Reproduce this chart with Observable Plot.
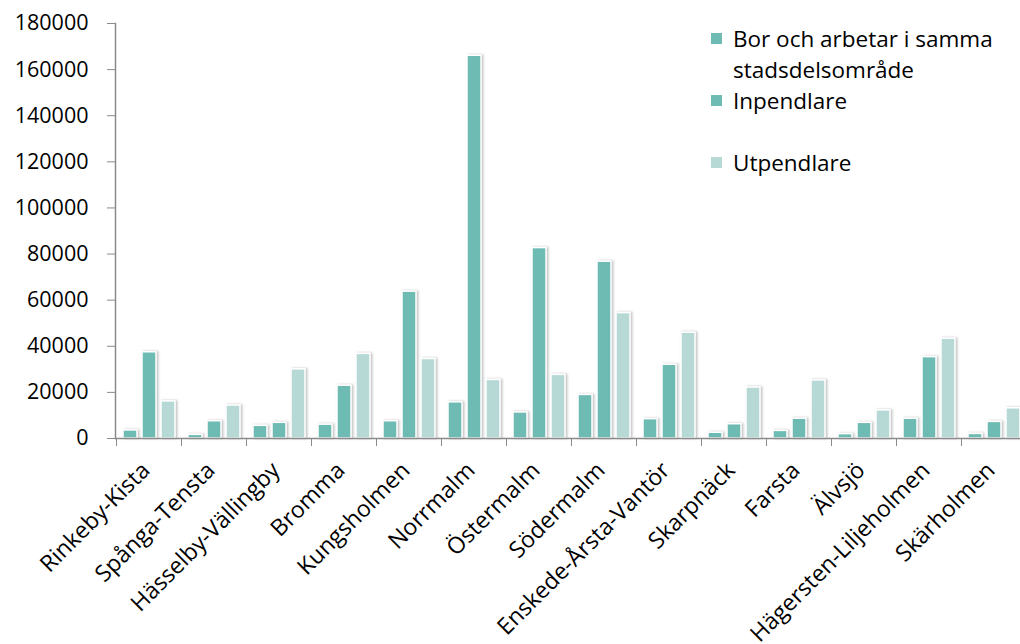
<!DOCTYPE html>
<html>
<head>
<meta charset="utf-8">
<script src="https://cdn.jsdelivr.net/npm/d3@7"></script>
<script src="https://cdn.jsdelivr.net/npm/@observablehq/plot@0.6"></script>
<style>
  html, body { margin: 0; padding: 0; background: #fff; }
  #wrap { position: relative; width: 1020px; height: 644px; overflow: hidden; font-family: "Open Sans", sans-serif; }
  #legend { position: absolute; left: 711px; top: 23px; font-size: 22.5px; color: #000; line-height: 31px; }
  .item { position: relative; padding-left: 22px; }
  .sw { position: absolute; left: 0; top: 10px; width: 11px; height: 11px; }
</style>
</head>
<body>
<div id="wrap">
  <div id="chart"></div>
  <div id="legend"></div>
</div>
<script>
const categories = ["Rinkeby-Kista", "Spånga-Tensta", "Hässelby-Vällingby", "Bromma", "Kungsholmen", "Norrmalm", "Östermalm", "Södermalm", "Enskede-Årsta-Vantör", "Skarpnäck", "Farsta", "Älvsjö", "Hägersten-Liljeholmen", "Skärholmen"];
const borOchArbetar = [3500, 1600, 5500, 6000, 7500, 15700, 11300, 18900, 8400, 2500, 3300, 1900, 8600, 2000];
const inpendlare   = [37400, 7500, 6800, 22900, 63700, 166000, 82600, 76700, 32000, 6200, 8600, 6800, 35300, 7200];
const utpendlare   = [16100, 14300, 30000, 36700, 34500, 25400, 27600, 54400, 45900, 22100, 25200, 12200, 43300, 13100];
const seriesNames = ["Bor och arbetar i samma stadsdelsområde", "Inpendlare", "Utpendlare"];
const seriesColors = ["#6dbbb3", "#6dbbb3", "#b7d9d6"];
const yTicks = [0, 20000, 40000, 60000, 80000, 100000, 120000, 140000, 160000, 180000];

const rows = categories.map((c, i) => ({cat: c, bor: borOchArbetar[i], inp: inpendlare[i], utp: utpendlare[i]}));

const barOpts = {stroke: "#ffffff", strokeWidth: 1.5};
const chart = Plot.plot({
  width: 1020,
  height: 644,
  marginLeft: 115,
  marginRight: 0,
  marginTop: 23,
  marginBottom: 206,
  style: {fontFamily: "'Open Sans', sans-serif", fontSize: "20px", color: "#000", background: "#fff", overflow: "visible"},
  x: {domain: categories, range: [115, 1026], padding: 0},
  y: {domain: [0, 180000]},
  marks: [
    Plot.barY(rows, {x: "cat", y: "bor", fill: seriesColors[0], insetLeft: 7, insetRight: 44, ...barOpts}),
    Plot.barY(rows, {x: "cat", y: "inp", fill: seriesColors[1], insetLeft: 26, insetRight: 25, ...barOpts}),
    Plot.barY(rows, {x: "cat", y: "utp", fill: seriesColors[2], insetLeft: 45, insetRight: 6, ...barOpts}),
    Plot.frame({anchor: "left", stroke: "#8a8a8a", strokeWidth: 1.5}),
    Plot.ruleY([0], {stroke: "#8a8a8a", strokeWidth: 1.5}),
    Plot.axisY({ticks: yTicks, tickSize: 8, tickPadding: 19, tickFormat: d => String(d), stroke: "#8a8a8a", label: null, fontSize: 21.5, fill: "#000"}),
    Plot.axisX({tickSize: 8, tickFormat: () => "", dx: -32.5, stroke: "#8a8a8a", label: null}),
    Plot.axisX({tickSize: 0, tickRotate: -45, tickPadding: 28, dx: -3, label: null, fontSize: 23, fill: "#000"})
  ]
});

// subtle drop shadow on bars
const ns = "http://www.w3.org/2000/svg";
const defs = document.createElementNS(ns, "defs");
defs.innerHTML = '<filter id="shadow" x="-30%" y="-5%" width="160%" height="110%"><feDropShadow dx="1.5" dy="0" stdDeviation="1.2" flood-color="#888" flood-opacity="0.55"/></filter>';
chart.insertBefore(defs, chart.firstChild);
chart.querySelectorAll('g[aria-label="bar"]').forEach(g => g.setAttribute("filter", "url(#shadow)"));

document.getElementById("chart").appendChild(chart);

const legend = document.getElementById("legend");
const legendLines = [["Bor och arbetar i samma", "stadsdelsområde"], ["Inpendlare"], [""], ["Utpendlare"]];
const legendColor = [seriesColors[0], seriesColors[1], null, seriesColors[2]];
legendLines.forEach((lines, i) => {
  const div = document.createElement("div");
  div.className = "item";
  if (legendColor[i]) {
    const sw = document.createElement("span");
    sw.className = "sw";
    sw.style.background = legendColor[i];
    div.appendChild(sw);
  }
  div.innerHTML += lines.map(l => l || "&nbsp;").join("<br>");
  legend.appendChild(div);
});
</script>
</body>
</html>
